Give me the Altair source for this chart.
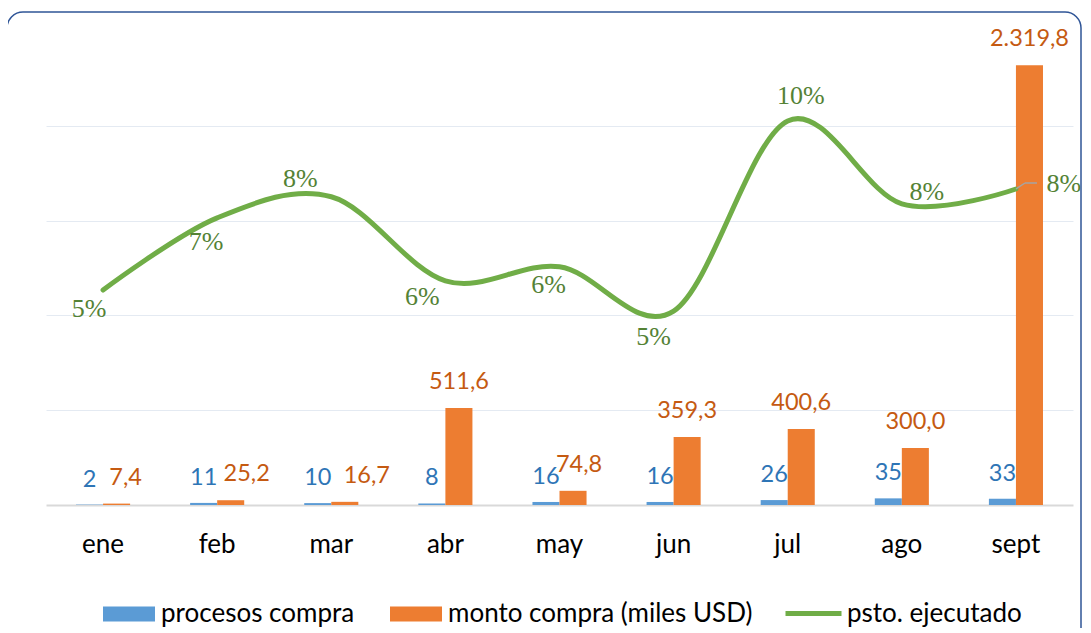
import json
import altair as alt
import pandas as pd

# ---- data ----
meses = ["ene", "feb", "mar", "abr", "may", "jun", "jul", "ago", "sept"]
procesos = [2, 11, 10, 8, 16, 16, 26, 35, 33]
monto = [7.4, 25.2, 16.7, 511.6, 74.8, 359.3, 400.6, 300.0, 2319.8]
ejecutado = [5.39, 7.34, 7.91, 5.64, 6.02, 4.82, 9.96, 7.72, 8.12]

S_PROC = "procesos compra"
S_MONTO = "monto compra (miles USD)"
S_EJEC = "psto. ejecutado"


def fmt_es(v):
    s = f"{v:,.1f}"
    return s.replace(",", "X").replace(".", ",").replace("X", ".")


bars_df = pd.DataFrame({
    "mes": meses * 2,
    "serie": [S_PROC] * len(meses) + [S_MONTO] * len(meses),
    "valor": procesos + monto,
    "etiqueta": [str(p) for p in procesos] + [fmt_es(m) for m in monto],
})
line_df = pd.DataFrame({
    "mes": meses,
    "serie": [S_EJEC] * len(meses),
    "pct": ejecutado,
    "etiqueta": [f"{round(v)}%" for v in ejecutado],
})

# ---- styling ----
BLUE, ORANGE, GREEN = "#5b9bd5", "#ed7d31", "#70ad47"
BLUE_T, ORANGE_T, GREEN_T = "#2e75b6", "#c55a11", "#548235"
FONT = "Lato"
VAL_FS = 23.5

X = alt.X(
    "mes:N", sort=meses,
    scale=alt.Scale(domain=meses, paddingInner=0.526, paddingOuter=0.263),
    axis=alt.Axis(title=None, labelFont=FONT, labelFontSize=26, labelColor="#000000",
                  labelPadding=47, labelBaseline="alphabetic", labelAngle=0, ticks=False,
                  domainColor="#d9d9d9", domainWidth=2, grid=False),
)
XOFF = alt.XOffset("serie:N", scale=alt.Scale(domain=[S_PROC, S_MONTO], paddingInner=0, paddingOuter=0))
Y_P = alt.Scale(domain=[0, 2500], nice=False, zero=True)
Y_S = alt.Scale(domain=[-0.42, 12.39], nice=False, zero=False)

bars = alt.Chart(bars_df).mark_bar().encode(
    x=X,
    xOffset=XOFF,
    y=alt.Y("valor:Q", scale=Y_P,
            axis=alt.Axis(values=[500, 1000, 1500, 2000], grid=True, gridColor="#e4eaf2",
                          gridWidth=1, labels=False, ticks=False, domain=False, title=None)),
    color=alt.Color("serie:N", scale=alt.Scale(domain=[S_PROC, S_MONTO], range=[BLUE, ORANGE]),
                    legend=alt.Legend(orient="none", legendX=57, legendY=557, direction="horizontal",
                                      title=None, symbolType="M-1,-0.29L1,-0.29L1,0.29L-1,0.29Z",
                                      symbolSize=2704, symbolStrokeWidth=0, labelFont=FONT,
                                      labelFontSize=26, labelColor="#000000", labelOffset=6,
                                      columnPadding=35, labelLimit=500, padding=0)),
)

proc_labels = alt.Chart(bars_df).transform_filter(
    alt.datum.serie == S_PROC
).mark_text(font=FONT, fontSize=VAL_FS, color=BLUE_T, baseline="alphabetic", dy=-18).encode(
    x=X, xOffset=XOFF, y=alt.Y("valor:Q", scale=Y_P, axis=None), text="etiqueta:N"
)

# manual horizontal nudges of the orange labels, as in the reference
monto_dx = {"ene": 9, "feb": 16, "mar": 22, "may": 6}
monto_layers = []
groups = {}
for m in meses:
    groups.setdefault(monto_dx.get(m, 0), []).append(m)
for dx, ms in groups.items():
    expr = f"datum.serie == '{S_MONTO}' && indexof({json.dumps(ms)}, datum.mes) >= 0"
    monto_layers.append(
        alt.Chart(bars_df).transform_filter(expr).mark_text(
            font=FONT, fontSize=VAL_FS, color=ORANGE_T, baseline="alphabetic", dx=dx, dy=-19
        ).encode(x=X, xOffset=XOFF, y=alt.Y("valor:Q", scale=Y_P, axis=None), text="etiqueta:N")
    )

line = alt.Chart(line_df).mark_line(interpolate="cardinal", strokeWidth=5, strokeCap="round").encode(
    x=X,
    y=alt.Y("pct:Q", scale=Y_S, axis=None),
    stroke=alt.Stroke("serie:N", scale=alt.Scale(domain=[S_EJEC], range=[GREEN]),
                      legend=alt.Legend(orient="none", legendX=737, legendY=552, direction="horizontal",
                                        title=None, symbolType="stroke", symbolSize=3136,
                                        symbolStrokeWidth=5, labelFont=FONT, labelFontSize=26,
                                        labelColor="#000000", labelOffset=3, labelLimit=500, padding=0)),
)

# leader line of the last percentage label
leader_a = alt.Chart(line_df).transform_filter("datum.mes == 'sept'").mark_rule(
    color="#a5a5a5", strokeWidth=1.5, x2Offset=9, y2Offset=-6
).encode(x=X, x2=alt.X2("mes"), y=alt.Y("pct:Q", scale=Y_S, axis=None), y2=alt.Y2("pct"))
leader_b = alt.Chart(line_df).transform_filter("datum.mes == 'sept'").mark_rule(
    color="#a5a5a5", strokeWidth=1.5, xOffset=9, yOffset=-6, x2Offset=21, y2Offset=-6
).encode(x=X, x2=alt.X2("mes"), y=alt.Y("pct:Q", scale=Y_S, axis=None), y2=alt.Y2("pct"))

# manual label placement of the percentage labels, as in the reference
pct_off = {"ene": (-14, 19), "feb": (-11, 24), "mar": (-31, -18), "abr": (-23, 16),
           "may": (-11, 18), "jun": (-20, 26), "jul": (13, -25), "ago": (25, -12),
           "sept": (48, -5)}
pct_layers = []
for m in meses:
    dx, dy = pct_off[m]
    pct_layers.append(
        alt.Chart(line_df).transform_filter(f"datum.mes == '{m}'").mark_text(
            font="Liberation Serif", fontSize=26, color=GREEN_T, baseline="middle", dx=dx, dy=dy
        ).encode(x=X, y=alt.Y("pct:Q", scale=Y_S, axis=None), text="etiqueta:N")
    )

frame = alt.Chart(pd.DataFrame({"k": [0]})).mark_rect(
    filled=False, stroke="#2f5597", strokeWidth=1.5, cornerRadius=16
).encode(x=alt.value(-39), x2=alt.value(1035), y=alt.value(-19), y2=alt.value(625))

chart = alt.layer(
    frame, bars, proc_labels, *monto_layers, line, leader_a, leader_b, *pct_layers
).resolve_scale(
    y="independent"
).properties(
    width=1027, height=474,
    background="white",
    autosize=alt.AutoSizeParams(type="none"),
    padding={"left": 38, "top": 23, "right": 10, "bottom": 123},
).configure_view(stroke=None)

chart.save("out.html", embed_options={"renderer": "svg", "actions": False})
